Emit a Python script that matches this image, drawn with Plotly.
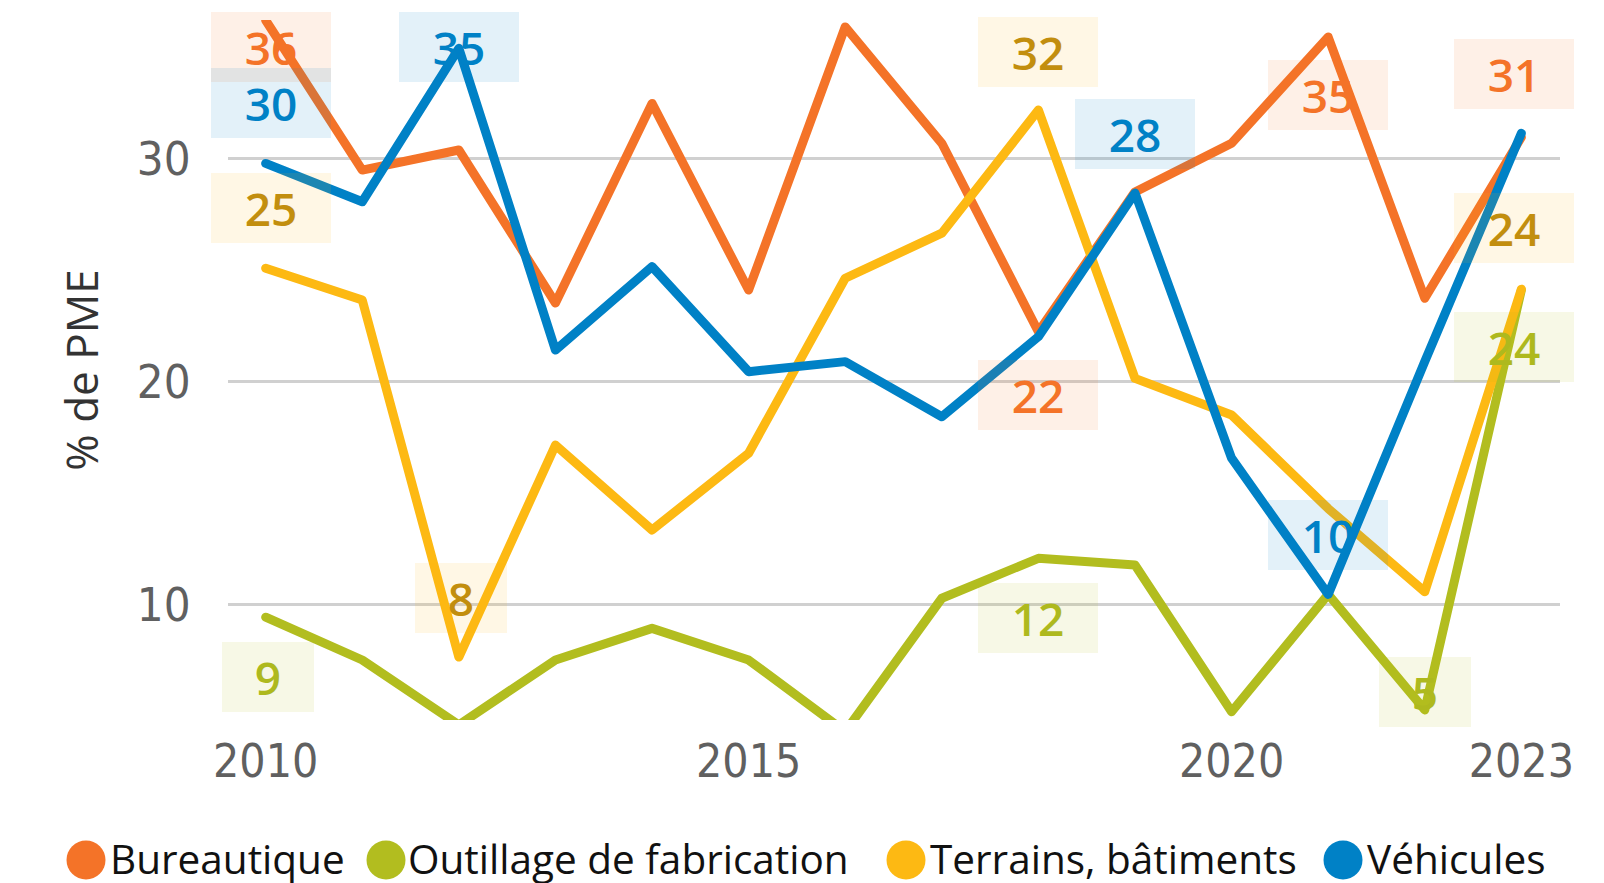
import plotly.graph_objects as go

# --- data ---
years = list(range(2010, 2024))

bureautique = [36.2, 29.48, 30.38, 23.52, 32.47, 24.1, 35.9, 30.68, 22.23, 28.5, 30.68, 35.45, 23.73, 30.95]
outillage = [9.43, 7.51, 4.6, 7.51, 8.93, 7.51, 4.3, 10.28, 12.07, 11.77, 5.19, 10.45, 5.27, 24.1]
terrains = [25.08, 23.65, 7.64, 17.15, 13.34, 16.78, 24.63, 26.65, 32.17, 20.14, 18.5, 14.3, 10.57, 24.14]
vehicules = [29.78, 28.06, 34.94, 21.41, 25.15, 20.44, 20.89, 18.42, 22.01, 28.45, 16.56, 10.45, 20.9, 31.13]

series_names = ["Bureautique", "Outillage de fabrication", "Terrains, bâtiments", "Véhicules"]
series_values = [bureautique, outillage, terrains, vehicules]

x_tickvals = [2010, 2015, 2020, 2023]
y_tickvals = [10, 20, 30]

# which points carry a value label (series index, year)
label_points = [
    (0, 2010), (3, 2010), (2, 2010), (1, 2010),
    (3, 2012), (2, 2012),
    (2, 2018), (0, 2018), (1, 2018),
    (3, 2019),
    (0, 2021), (3, 2021),
    (1, 2022),
    (0, 2023), (2, 2023), (1, 2023),
]

# --- styling ---
LINE_COLORS = ["#F47328", "#B2BD1F", "#FDB913", "#0081C6"]
TEXT_COLORS = ["#F47328", "#AEB91E", "#C28E0E", "#0081C6"]
BOX_RGB = ["244,115,40", "178,189,31", "253,185,19", "0,129,198"]

# label box offsets in px (dx right, dy down) from its point
LABEL_OFFSETS = [
    (5, 27), (5, -60), (5, -60), (2, 60),
    (0, -1), (2, -59),
    (0, -58), (0, 63), (0, 60),
    (0, -59),
    (0, 58), (0, -59),
    (0, -18),
    (-7, -63), (-7, -61), (-7, 57),
]

# figure sits inside the page body (8px default margin)
W, H = 1596, 875
M_L, M_R, M_T, M_B = 220, 44, 12, 163
PLOT_W = W - M_L - M_R
PLOT_H = H - M_T - M_B

TICK_FONT = "Liberation Sans Narrow, DejaVu Sans Condensed, Arial Narrow, sans-serif"
TEXT_FONT = "Open Sans, Noto Sans, sans-serif"

fig = go.Figure()

for name, vals, color in zip(series_names, series_values, LINE_COLORS):
    fig.add_trace(go.Scatter(
        x=years,
        y=vals,
        mode="lines",
        name=name,
        line=dict(color=color, width=9),
        hoverinfo="x+y+name",
        showlegend=False,
    ))

# --- value labels in tinted boxes ---
for (s, yr), (dx, dy) in zip(label_points, LABEL_OFFSETS):
    v = series_values[s][years.index(yr)]
    txt = f"{round(v):d}"
    fig.add_annotation(
        x=yr, y=v, xref="x", yref="y",
        text=txt,
        showarrow=False,
        xanchor="center", yanchor="middle",
        xshift=dx, yshift=-dy,
        width=120 if len(txt) > 1 else 92,
        height=70,
        align="center", valign="middle",
        bgcolor=f"rgba({BOX_RGB[s]},0.11)",
        borderpad=0, borderwidth=0,
        font=dict(family=TEXT_FONT, size=46, color=TEXT_COLORS[s], weight=600),
    )

# --- legend drawn by hand (big round swatches) ---
legend_dot_px = [78, 378, 898, 1335]
legend_text_px = [100, 398, 920, 1357]
legend_y_px = 852
ly = (H - M_B - legend_y_px) / PLOT_H
for name, color, dot_px, text_px in zip(series_names, LINE_COLORS, legend_dot_px, legend_text_px):
    fig.add_shape(
        type="circle", xref="paper", yref="paper",
        xsizemode="pixel", ysizemode="pixel",
        xanchor=(dot_px - M_L) / PLOT_W, yanchor=ly,
        x0=-19.5, x1=19.5, y0=-19.5, y1=19.5,
        fillcolor=color, line_width=0,
    )
    fig.add_annotation(
        x=(text_px - M_L) / PLOT_W, y=ly, xref="paper", yref="paper",
        text=name, showarrow=False,
        xanchor="left", yanchor="middle", yshift=2,
        font=dict(family=TEXT_FONT, size=40.5, color="#111111"),
    )

fig.update_layout(
    width=W, height=H,
    margin=dict(l=M_L, r=M_R, t=M_T, b=M_B),
    plot_bgcolor="white",
    paper_bgcolor="white",
    showlegend=False,
    xaxis=dict(
        range=[2009.61, 2023.40],
        tickvals=x_tickvals,
        ticktext=[str(t) for t in x_tickvals],
        showgrid=False, zeroline=False, showline=False,
        ticks="outside", ticklen=1, tickcolor="rgba(0,0,0,0)",
        tickfont=dict(family=TICK_FONT, size=46, color="#606060"),
    ),
    yaxis=dict(
        range=[4.82, 36.21],
        tickvals=y_tickvals,
        showgrid=True, gridcolor="#d0d0d0", gridwidth=3,
        zeroline=False, showline=False,
        ticks="outside", ticklen=27, tickcolor="rgba(0,0,0,0)",
        tickfont=dict(family=TICK_FONT, size=47, color="#606060"),
        title=dict(text="% de PME", standoff=24,
                   font=dict(family=TEXT_FONT, size=44, color="#333333")),
    ),
)

round_lines = """
var gd = document.getElementById('{plot_id}');
gd.querySelectorAll('.scatterlayer path.js-line').forEach(function(p) {
    p.style.strokeLinejoin = 'round';
    p.style.strokeLinecap = 'round';
});
"""

fig.write_html("out.html", post_script=round_lines)
